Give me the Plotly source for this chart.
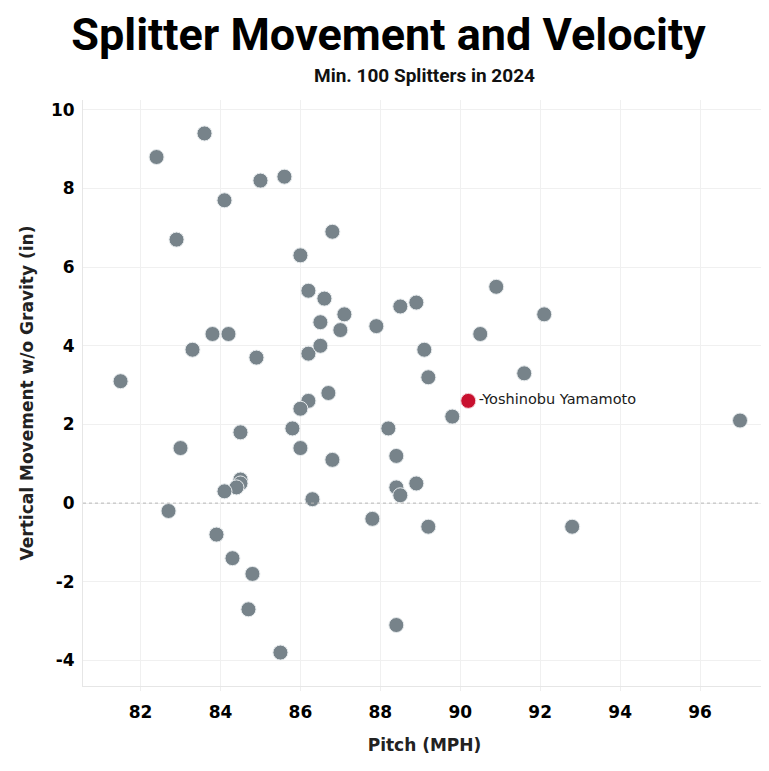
import plotly.graph_objects as go

# splitter pitchers, min. 100 thrown in 2024
velo = [83.6, 82.4, 85.0, 85.6, 84.1, 86.8, 82.9, 86.0, 86.2, 86.6,
        87.1, 86.5, 87.0, 87.9, 88.5, 88.9, 83.8, 84.2, 83.3, 84.9,
        86.2, 86.5, 81.5, 89.1, 89.2, 86.7, 86.2, 86.0, 85.8, 84.5,
        83.0, 86.0, 86.8, 88.2, 88.4, 84.5, 84.5, 84.4, 84.1, 86.3,
        88.4, 88.5, 88.9, 82.7, 87.8, 89.2, 83.9, 84.3, 84.8, 84.7,
        88.4, 85.5, 90.9, 92.1, 90.5, 91.6, 89.8, 97.0, 92.8]
ivb = [9.4, 8.8, 8.2, 8.3, 7.7, 6.9, 6.7, 6.3, 5.4, 5.2,
       4.8, 4.6, 4.4, 4.5, 5.0, 5.1, 4.3, 4.3, 3.9, 3.7,
       3.8, 4.0, 3.1, 3.9, 3.2, 2.8, 2.6, 2.4, 1.9, 1.8,
       1.4, 1.4, 1.1, 1.9, 1.2, 0.6, 0.5, 0.4, 0.3, 0.1,
       0.4, 0.2, 0.5, -0.2, -0.4, -0.6, -0.8, -1.4, -1.8, -2.7,
       -3.1, -3.8, 5.5, 4.8, 4.3, 3.3, 2.2, 2.1, -0.6]

hl_name = 'Yoshinobu Yamamoto'
hl_velo = [90.2]
hl_ivb = [2.6]

x_ticks = [82, 84, 86, 88, 90, 92, 94, 96]
y_ticks = [-4, -2, 0, 2, 4, 6, 8, 10]

tick_font = dict(family='DejaVu Sans', size=17, color='black')
title_font = dict(family='DejaVu Sans', size=17, color='#222222')

fig = go.Figure()
fig.add_trace(go.Scatter(x=velo, y=ivb, mode='markers',
                         marker=dict(size=15, color='#77838a', line=dict(color='#e8ecee', width=1)),
                         hoverinfo='x+y', showlegend=False))
fig.add_trace(go.Scatter(x=hl_velo, y=hl_ivb, mode='markers+text',
                         text=['-' + hl_name], textposition='middle right',
                         textfont=dict(family='DejaVu Sans', size=14.5, color='#1a1a1a'),
                         marker=dict(size=15, color='#c8102e', line=dict(color='#f4d0d6', width=1)),
                         showlegend=False))

fig.update_xaxes(range=[80.56, 97.65], tickvals=x_ticks, ticktext=['<b>%d</b>' % v for v in x_ticks],
                 showgrid=True, gridcolor='#f0f0f0', zeroline=False, automargin=False,
                 showline=True, linecolor='#e6e6e6', ticks='outside', ticklen=4, tickcolor='#eeeeee',
                 ticklabelstandoff=7,
                 tickfont=tick_font, title=dict(text='<b>Pitch (MPH)</b>', font=title_font, standoff=17))
fig.update_yaxes(range=[-4.65, 10.25], tickvals=y_ticks, ticktext=['<b>%d</b>' % v for v in y_ticks],
                 showgrid=True, gridcolor='#f0f0f0', zeroline=False, automargin=False,
                 showline=True, linecolor='#e6e6e6', ticklabelstandoff=4,
                 tickfont=tick_font, title=dict(text='<b>Vertical Movement w/o Gravity (in)</b>', font=title_font, standoff=12))
fig.add_hline(y=0, line=dict(color='#b8b8b8', width=1, dash='dot'))

# page body has an 8px margin, so the figure is a little smaller than the window
fig.update_layout(
    width=761, height=763,
    margin=dict(l=75, r=3, t=92, b=85),
    plot_bgcolor='white', paper_bgcolor='white',
    title=dict(text='<b>Splitter Movement and Velocity</b>', x=0.5, xanchor='center',
               y=0.966, yanchor='middle', automargin=False,
               font=dict(family='Roboto', size=45, color='black')),
    annotations=[dict(text='<b>Min. 100 Splitters in 2024</b>', xref='paper', yref='paper',
                      x=0.5, y=1.0, yshift=25, yanchor='middle', showarrow=False,
                      font=dict(family='Roboto', size=19, color='#111111'))],
)

fig.write_html('out.html')
